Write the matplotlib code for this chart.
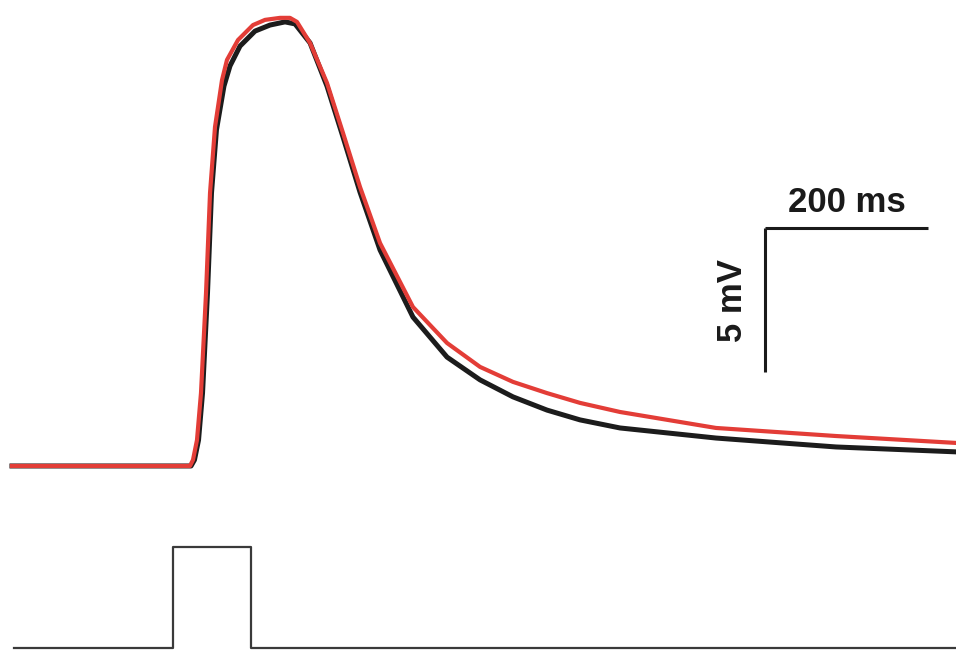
import matplotlib.pyplot as plt

# -----------------------------
# Data (time in ms, voltage in mV)
# -----------------------------
time_red = [14.7, 233.1, 236.8, 241.7, 246.6, 252.8, 257.7, 263.8, 272.4, 278.5, 292.0,
            310.4, 325.2, 343.6, 355.8, 364.4, 380.4, 401.2, 420.9, 441.7, 466.3,
            506.7, 548.5, 589.0, 629.4, 671.2, 711.7, 760.7, 878.5, 1025.8, 1173]
v_red = [0, 0, 0.21, 0.90, 2.53, 6.01, 9.48, 11.77, 13.40, 14.10, 14.79,
         15.31, 15.49, 15.56, 15.56, 15.42, 14.69, 13.30, 11.56, 9.69, 7.74,
         5.52, 4.27, 3.44, 2.92, 2.53, 2.19, 1.875, 1.32, 1.04, 0.80]

time_black = [14.7, 234.4, 238.6, 243.6, 248.5, 254.6, 259.5, 265.6, 274.8, 282.2, 294.5,
              312.9, 331.3, 349.7, 362.0, 380.4, 401.2, 420.9, 441.7, 466.3,
              506.7, 548.5, 589.0, 629.4, 671.2, 711.7, 760.7, 878.5, 1025.8, 1173]
v_black = [0, 0, 0.21, 0.90, 2.53, 6.01, 9.48, 11.67, 13.19, 13.89, 14.58,
           15.10, 15.31, 15.42, 15.35, 14.69, 13.19, 11.42, 9.51, 7.50,
           5.17, 3.78, 2.99, 2.40, 1.94, 1.60, 1.32, 0.97, 0.66, 0.49]

stim_time = [17, 212, 212, 308, 308, 1173]
stim_level = [0, 0, 1, 1, 0, 0]

# scale bar sizes and corner position
bar_ms = 200
bar_mv = 5
bar_x0 = 939
bar_y0 = 8.26

# -----------------------------
# Figure
# -----------------------------
fig = plt.figure(figsize=(9.56, 6.5), dpi=100)

ax = fig.add_axes([0, 0, 1, 1])
ax.set_xlim(0, 1173)
ax.set_ylim(-6.39, 16.18)
ax.axis("off")

ax.plot(time_black, v_black, color="#1c1c1c", lw=3.6, solid_joinstyle="round")
ax.plot(time_red, v_red, color="#e33d37", lw=3.0, solid_joinstyle="round")

# scale bar
ax.plot([bar_x0, bar_x0 + bar_ms], [bar_y0, bar_y0], color="#1a1a1a", lw=2.2,
        solid_capstyle="butt")
ax.plot([bar_x0, bar_x0], [bar_y0, bar_y0 - bar_mv], color="#1a1a1a", lw=2.2,
        solid_capstyle="butt")
ax.text(bar_x0 + bar_ms / 2, bar_y0 + 0.56, "200 ms", ha="center", va="baseline",
        fontsize=25, fontweight="bold", family="Liberation Sans", color="#1a1a1a")
ax.text(bar_x0 - 40, bar_y0 - bar_mv / 2, "5 mV", ha="center", va="center",
        rotation=90, fontsize=25, fontweight="bold", family="Liberation Sans",
        color="#1a1a1a")

# stimulus trace
ax_s = fig.add_axes([0, 0, 1, 0.2])
ax_s.set_xlim(0, 1173)
ax_s.set_ylim(-0.02, 1.267)
ax_s.axis("off")
ax_s.plot(stim_time, stim_level, color="#3a3a3a", lw=1.6, clip_on=False)

fig.savefig("out.png", dpi=100)
